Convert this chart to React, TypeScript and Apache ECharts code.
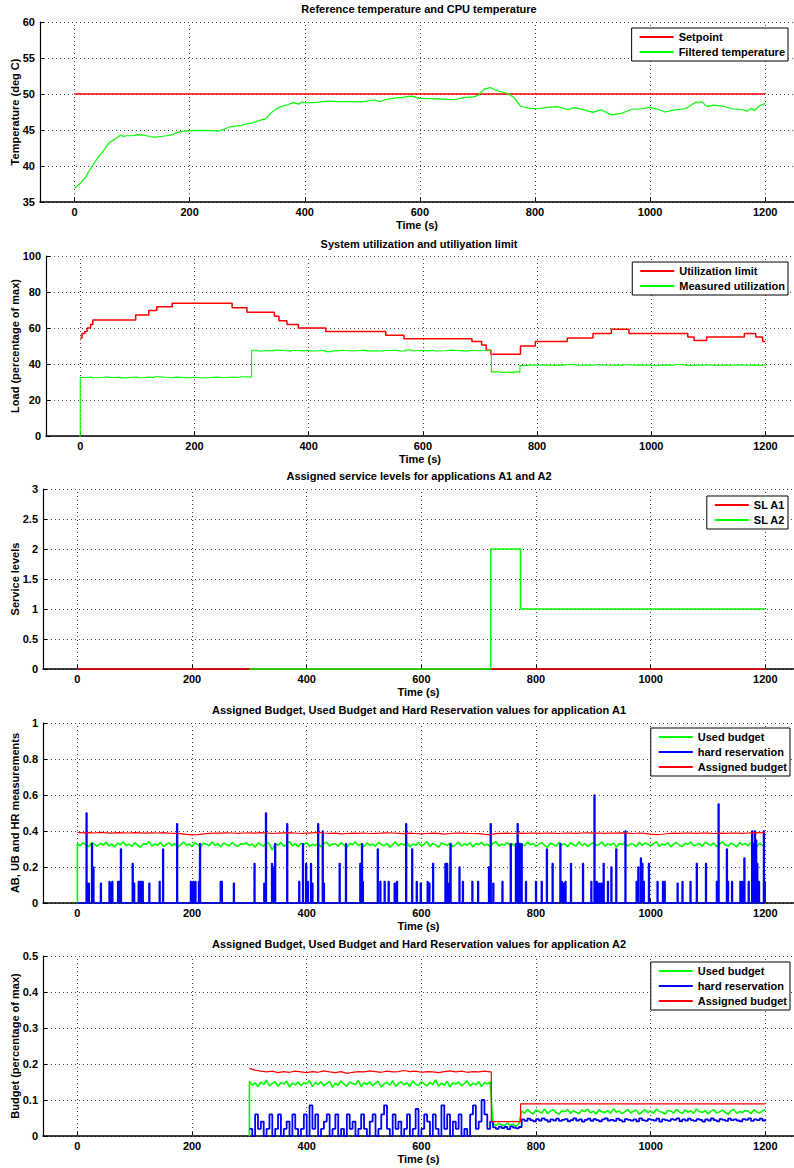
import React, { useEffect, useRef } from "react";
import * as echarts from "echarts";

// ---------- shared ticks ----------
const xTicks = [0, 200, 400, 600, 800, 1000, 1200];

// ---------- plot 1 ----------
const setpointTemp = [[0, 50], [1200, 50]];
const filteredTemp = [
  [0, 36.9], [10, 37.6], [20, 38.5], [23, 39.0], [30, 39.9], [40, 41.1], [50, 42.1], [60, 43.2], [63, 43.4], [70, 43.7],
  [80, 44.3], [85, 44.1], [90, 44.2], [100, 44.2], [110, 44.35], [120, 44.3], [130, 44.1], [140, 44.0], [150, 44.1],
  [160, 44.2], [170, 44.35], [180, 44.7], [190, 44.85], [200, 44.9], [220, 44.95], [240, 44.9], [250, 44.85], [260, 45.1],
  [270, 45.45], [280, 45.55], [290, 45.65], [300, 45.9], [310, 46.0], [320, 46.3], [330, 46.5], [335, 46.75], [340, 47.3],
  [350, 47.9], [360, 48.3], [370, 48.5], [380, 48.8], [390, 48.6], [395, 48.9], [400, 48.75], [420, 48.85], [440, 49.0],
  [460, 48.95], [480, 48.95], [500, 48.9], [520, 49.2], [530, 48.95], [540, 49.2], [550, 49.35], [565, 49.5], [585, 49.7],
  [600, 49.4], [623, 49.35], [647, 49.25], [661, 49.2], [676, 49.5], [693, 49.6], [702, 49.85], [711, 50.65], [722, 50.9],
  [734, 50.45], [752, 50.1], [763, 49.55], [775, 48.3], [787, 48.05], [804, 47.95], [822, 48.15], [839, 48.25], [857, 47.85],
  [868, 48.1], [886, 47.8], [900, 47.45], [915, 47.8], [932, 47.1], [950, 47.3], [967, 47.85], [985, 47.95], [1000, 48.15],
  [1014, 47.85], [1026, 47.5], [1043, 47.8], [1061, 47.95], [1078, 48.8], [1090, 48.9], [1099, 48.25], [1110, 48.45],
  [1128, 48.3], [1142, 47.95], [1160, 47.85], [1169, 47.6], [1175, 48.0], [1182, 47.7], [1189, 48.3], [1200, 48.7],
];

// ---------- plot 2 ----------
const utilLimitSteps = [
  [0, 54.5], [3, 57], [8, 58], [12, 60], [18, 62], [22, 64.5], [97, 67.2], [120, 69.7], [134, 71.8], [161, 73.8],
  [266, 71.2], [292, 68.8], [340, 66.5], [348, 64], [362, 62], [382, 60], [430, 58], [535, 56], [567, 54], [686, 52.5],
  [703, 50.5], [711, 47.7], [719, 45.4], [771, 50], [797, 52.5], [853, 54.5], [898, 57], [930, 59.3], [961, 57],
  [1064, 55], [1075, 53], [1097, 55], [1163, 57], [1183, 55], [1195, 52.5], [1200, 52.5],
];
const measuredUtilStart = [-2, 0];
const measuredUtilStep = 10; // seconds between samples, first sample at t = 0
const measuredUtil = [
  32.5, 32.8, 32.4, 32.6, 32.9, 32.5, 32.7, 32.3, 32.6, 32.8,
  32.4, 32.7, 32.5, 32.9, 32.6, 32.4, 32.7, 32.5, 32.3, 32.6,
  32.4, 32.2, 32.5, 32.7, 32.4, 32.6, 32.8, 32.5, 32.9, 32.7,
  47.6, 47.2, 47.5, 47.3, 47.7, 47.4, 47.1, 47.5, 47.3, 47.6,
  47.2, 47.4, 47.5, 46.9, 47.3, 47.6, 47.4, 47.2, 47.5, 47.7,
  47.3, 47.4, 47.1, 47.5, 47.6, 47.3, 47.2, 47.8, 47.4, 47.5,
  47.3, 47.6, 47.2, 47.4, 47.7, 47.5, 47.3, 47.1, 47.5, 47.4,
  47.6, 47.7,
  35.6, 35.3, 35.5, 35.2, 35.6,
  39.2, 39.5, 39.3, 39.6, 39.4, 39.2, 39.5, 39.3, 39.7, 39.4,
  39.3, 39.5, 39.2, 39.6, 39.4, 39.3, 39.5, 39.2, 39.6, 39.4,
  39.5, 39.3, 39.6, 39.2, 39.4, 39.5, 39.3, 39.7, 39.4, 39.2,
  39.5, 39.3, 39.6, 39.4, 39.2, 39.5, 39.3, 39.6, 39.4, 39.3,
  39.5, 39.2, 39.4, 39.3,
];

// ---------- plot 3 ----------
const slA1 = [[0, 0], [1200, 0]];
const slA2 = [[300, 0], [721, 0], [721, 2], [773, 2], [773, 1], [1200, 1]];

// ---------- plot 4 ----------
const a1AssignedStep = 10;
const a1Assigned = [
  0.392, 0.390, 0.391, 0.389, 0.392, 0.390, 0.388, 0.391, 0.390, 0.389,
  0.391, 0.390, 0.388, 0.390, 0.389, 0.391, 0.388, 0.387, 0.385, 0.381,
  0.378, 0.380, 0.384, 0.387, 0.389, 0.388, 0.390, 0.389, 0.387, 0.389,
  0.390, 0.388, 0.391, 0.389, 0.386, 0.388, 0.390, 0.391, 0.389, 0.386,
  0.388, 0.390, 0.392, 0.389, 0.387, 0.388, 0.384, 0.386, 0.388, 0.387,
  0.389, 0.386, 0.387, 0.388, 0.390, 0.389, 0.387, 0.385, 0.388, 0.386,
  0.384, 0.386, 0.388, 0.387, 0.383, 0.386, 0.388, 0.389, 0.387, 0.386,
  0.385, 0.381, 0.379, 0.385, 0.387, 0.388, 0.386, 0.388, 0.387, 0.389,
  0.388, 0.387, 0.389, 0.388, 0.386, 0.389, 0.388, 0.387, 0.389, 0.390,
  0.388, 0.389, 0.387, 0.389, 0.388, 0.390, 0.388, 0.386, 0.389, 0.387,
  0.383, 0.380, 0.382, 0.386, 0.388, 0.387, 0.389, 0.388, 0.387, 0.389,
  0.388, 0.386, 0.388, 0.387, 0.389, 0.388, 0.387, 0.389, 0.391, 0.390,
  0.392,
];
const a1UsedStep = 5;
const a1UsedStart = [0, 0];
const a1Used = [
  0.330, 0.318, 0.334, 0.322, 0.312, 0.336, 0.326, 0.315, 0.332, 0.321,
  0.338, 0.317, 0.328, 0.311, 0.333, 0.324, 0.340, 0.319, 0.327, 0.314,
  0.335, 0.322, 0.309, 0.331, 0.325, 0.342, 0.316, 0.329, 0.320, 0.337,
  0.313, 0.326, 0.334, 0.318, 0.330, 0.310, 0.323, 0.339, 0.321, 0.328,
  0.315, 0.336, 0.324, 0.312, 0.332, 0.327, 0.318, 0.341, 0.320, 0.329,
  0.311, 0.333, 0.325, 0.317, 0.338, 0.322, 0.314, 0.330, 0.326, 0.335,
  0.319, 0.328, 0.310, 0.334, 0.323, 0.316, 0.339, 0.327, 0.294, 0.331,
  0.321, 0.337, 0.315, 0.325, 0.342, 0.318, 0.329, 0.312, 0.332, 0.324,
  0.336, 0.314, 0.327, 0.320, 0.333, 0.311, 0.330, 0.338, 0.317, 0.326,
  0.329, 0.316, 0.335, 0.322, 0.309, 0.331, 0.324, 0.340, 0.319, 0.327,
  0.313, 0.334, 0.321, 0.328, 0.315, 0.337, 0.325, 0.318, 0.332, 0.310,
  0.326, 0.339, 0.317, 0.330, 0.322, 0.335, 0.312, 0.328, 0.320, 0.336,
  0.318, 0.327, 0.341, 0.314, 0.331, 0.323, 0.309, 0.334, 0.326, 0.319,
  0.333, 0.312, 0.325, 0.338, 0.316, 0.329, 0.321, 0.335, 0.311, 0.330,
  0.324, 0.337, 0.319, 0.328, 0.313, 0.332, 0.340, 0.317, 0.326, 0.322,
  0.336, 0.315, 0.329, 0.311, 0.334, 0.325, 0.318, 0.339, 0.323, 0.331,
  0.314, 0.327, 0.335, 0.320, 0.309, 0.333, 0.326, 0.316, 0.338, 0.322,
  0.329, 0.312, 0.336, 0.324, 0.317, 0.340, 0.321, 0.330, 0.313, 0.327,
  0.335, 0.318, 0.326, 0.339, 0.315, 0.328, 0.322, 0.334, 0.310, 0.331,
  0.323, 0.337, 0.316, 0.329, 0.325, 0.312, 0.338, 0.320, 0.333, 0.326,
  0.317, 0.330, 0.341, 0.314, 0.327, 0.322, 0.335, 0.311, 0.328, 0.336,
  0.321, 0.313, 0.332, 0.326, 0.339, 0.318, 0.324, 0.331, 0.315, 0.337,
  0.328, 0.319, 0.334, 0.312, 0.327, 0.340, 0.322, 0.316, 0.333, 0.325,
  0.311, 0.336, 0.323, 0.330, 0.318, 0.338, 0.326, 0.314, 0.332, 0.320,
  0.327,
];
// hard reservation spikes [time, value]; baseline is 0
const a1HardSpikes = [
  [16, 0.50], [20, 0.11], [25.5, 0.33], [28, 0.20], [41, 0.11], [56, 0.12], [59, 0.11], [61, 0.12], [71, 0.12], [73, 0.12],
  [76, 0.30], [96.5, 0.22], [99, 0.11], [107, 0.12], [109, 0.12], [111, 0.12], [114, 0.12], [125.5, 0.11], [143.5, 0.12],
  [149.5, 0.30], [174, 0.44], [198, 0.12], [202, 0.12], [206, 0.12], [212, 0.12], [214, 0.33], [250, 0.12], [252, 0.12],
  [273, 0.11], [309, 0.22], [326, 0.11], [329, 0.50], [339.5, 0.22], [342, 0.20], [345, 0.33], [366, 0.44], [387, 0.12],
  [393.5, 0.33], [399, 0.22], [402, 0.12], [407.5, 0.22], [410, 0.11], [420, 0.44], [428, 0.40], [430, 0.11], [457.5, 0.22],
  [468.5, 0.33], [493.5, 0.22], [496.5, 0.33], [498, 0.12], [524, 0.30], [528.5, 0.12], [536, 0.12], [543, 0.12],
  [553.5, 0.11], [557.5, 0.12], [573.5, 0.44], [584, 0.30], [592, 0.12], [599, 0.11], [611, 0.12], [614, 0.11],
  [620.5, 0.22], [642, 0.22], [645, 0.22], [648.5, 0.11], [651, 0.33], [666.5, 0.20], [672.5, 0.12], [689, 0.12],
  [699, 0.12], [718, 0.20], [721, 0.44], [725.5, 0.11], [741.5, 0.12], [756, 0.33], [765, 0.33], [768, 0.44], [771, 0.33],
  [775, 0.33], [782.5, 0.12], [800, 0.12], [810, 0.12], [819, 0.30], [829, 0.22], [842.5, 0.33], [845, 0.12], [848.5, 0.11],
  [851.5, 0.12], [861, 0.22], [882, 0.22], [896.5, 0.12], [902, 0.60], [906, 0.12], [910, 0.11], [914, 0.11], [918, 0.22],
  [925.5, 0.12], [931.5, 0.20], [940, 0.30], [956, 0.40], [975.5, 0.12], [978.5, 0.20], [983, 0.25], [985.5, 0.22],
  [988, 0.12], [997, 0.22], [1012, 0.12], [1021.5, 0.12], [1024.5, 0.12], [1047, 0.11], [1055.5, 0.12], [1069.5, 0.12],
  [1080.5, 0.22], [1096.5, 0.22], [1115.5, 0.12], [1118.5, 0.55], [1133, 0.30], [1135, 0.12], [1142, 0.12], [1156.5, 0.12],
  [1159.5, 0.12], [1163.5, 0.25], [1171, 0.12], [1177, 0.40], [1180, 0.33], [1182, 0.40], [1184, 0.35], [1186, 0.22],
  [1189, 0.12], [1197.5, 0.40], [1199, 0.12],
];

// ---------- plot 5 ----------
const a2Start = 300;
const a2Step = 5;
const a2Used = [
  0.152, 0.141, 0.148, 0.137, 0.150, 0.143, 0.155, 0.139, 0.146, 0.151,
  0.138, 0.149, 0.144, 0.153, 0.136, 0.147, 0.142, 0.150, 0.140, 0.148,
  0.145, 0.154, 0.137, 0.149, 0.143, 0.151, 0.139, 0.146, 0.152, 0.135,
  0.147, 0.141, 0.153, 0.144, 0.138, 0.150, 0.146, 0.142, 0.155, 0.137,
  0.148, 0.143, 0.151, 0.139, 0.147, 0.152, 0.136, 0.145, 0.149, 0.141,
  0.154, 0.138, 0.146, 0.150, 0.142, 0.148, 0.137, 0.153, 0.144, 0.140,
  0.151, 0.145, 0.139, 0.149, 0.143, 0.156, 0.138, 0.147, 0.141, 0.152,
  0.136, 0.148, 0.144, 0.150, 0.140, 0.146, 0.153, 0.139, 0.147, 0.142,
  0.151, 0.137, 0.149, 0.144, 0.150,
  0.034, 0.029, 0.035, 0.031, 0.028, 0.036, 0.030, 0.033, 0.027, 0.034,
  0.070, 0.063, 0.074, 0.066, 0.061, 0.072, 0.068, 0.064, 0.075, 0.062,
  0.069, 0.073, 0.065, 0.060, 0.071, 0.067, 0.074, 0.063, 0.070, 0.066,
  0.062, 0.072, 0.068, 0.075, 0.064, 0.069, 0.061, 0.073, 0.067, 0.065,
  0.071, 0.063, 0.076, 0.066, 0.070, 0.062, 0.068, 0.074, 0.064, 0.069,
  0.072, 0.060, 0.067, 0.073, 0.065, 0.070, 0.063, 0.075, 0.068, 0.066,
  0.061, 0.071, 0.069, 0.064, 0.074, 0.067, 0.062, 0.072, 0.066, 0.070,
  0.063, 0.075, 0.068, 0.065, 0.071, 0.061, 0.069, 0.073, 0.064, 0.067,
  0.072, 0.066, 0.060, 0.070, 0.074, 0.063, 0.068, 0.065, 0.071, 0.069,
  0.062, 0.073, 0.067, 0.064, 0.070, 0.072,
];
const a2Hard = [
  0.020, 0.000, 0.060, 0.020, 0.040, 0.000, 0.020, 0.060, 0.000, 0.020,
  0.060, 0.000, 0.020, 0.040, 0.000, 0.060, 0.020, 0.000, 0.020, 0.060,
  0.000, 0.085, 0.020, 0.060, 0.000, 0.020, 0.040, 0.060, 0.000, 0.020,
  0.060, 0.000, 0.020, 0.000, 0.060, 0.020, 0.040, 0.000, 0.020, 0.060,
  0.020, 0.000, 0.040, 0.060, 0.000, 0.020, 0.060, 0.085, 0.020, 0.000,
  0.060, 0.020, 0.040, 0.000, 0.020, 0.060, 0.000, 0.020, 0.075, 0.000,
  0.020, 0.060, 0.040, 0.000, 0.060, 0.020, 0.000, 0.085, 0.020, 0.060,
  0.000, 0.040, 0.020, 0.060, 0.000, 0.020, 0.000, 0.060, 0.085, 0.020,
  0.040, 0.100, 0.060, 0.020, 0.040,
  0.024, 0.020, 0.026, 0.022, 0.025, 0.019, 0.027, 0.023, 0.021, 0.025,
  0.046, 0.042, 0.048, 0.044, 0.041, 0.047, 0.043, 0.049, 0.045, 0.040,
  0.046, 0.043, 0.048, 0.042, 0.045, 0.047, 0.041, 0.044, 0.049, 0.043,
  0.046, 0.040, 0.045, 0.048, 0.042, 0.047, 0.044, 0.041, 0.046, 0.049,
  0.043, 0.045, 0.042, 0.048, 0.044, 0.040, 0.047, 0.045, 0.043, 0.046,
  0.041, 0.049, 0.044, 0.042, 0.047, 0.045, 0.043, 0.048, 0.040, 0.046,
  0.044, 0.042, 0.047, 0.045, 0.049, 0.041, 0.046, 0.043, 0.048, 0.044,
  0.042, 0.047, 0.045, 0.040, 0.046, 0.043, 0.049, 0.044, 0.041, 0.047,
  0.045, 0.042, 0.048, 0.044, 0.046, 0.043, 0.041, 0.047, 0.045, 0.049,
  0.042, 0.046, 0.044, 0.048, 0.043, 0.047,
];
const a2AssignedStep = 10;
const a2Assigned = [
  0.188, 0.183, 0.180, 0.178, 0.180, 0.176, 0.179, 0.177, 0.180, 0.178,
  0.176, 0.179, 0.177, 0.181, 0.178, 0.176, 0.179, 0.174, 0.177, 0.179,
  0.178, 0.181, 0.179, 0.177, 0.180, 0.178, 0.179, 0.182, 0.179, 0.180,
  0.177, 0.179, 0.178, 0.176, 0.179, 0.181, 0.178, 0.180, 0.177, 0.179,
  0.178, 0.180, 0.178,
];
const a2AssignedTail = [[722, 0.178], [722, 0.040], [773, 0.040], [773, 0.089], [1200, 0.089]];

// ---------- texts ----------
const titles = [
  "Reference temperature and CPU temperature",
  "System utilization and utiliyation limit",
  "Assigned service levels for applications A1 and A2",
  "Assigned Budget, Used Budget and Hard Reservation values for application A1",
  "Assigned Budget, Used Budget and Hard Reservation values for application A2",
];
const yNames = [
  "Temperature (deg C)",
  "Load (percentage of max)",
  "Service levels",
  "AB, UB and HR measurements",
  "Budget (percentage of max)",
];
const xName = "Time (s)";
const yRanges = [
  [35, 60, 5],
  [0, 100, 20],
  [0, 3, 0.5],
  [0, 1, 0.2],
  [0, 0.5, 0.1],
];
const legendNames = [
  ["Setpoint", "Filtered temperature"],
  ["Utilization limit", "Measured utilization"],
  ["SL A1", "SL A2"],
  ["Used budget", "hard reservation", "Assigned budget"],
  ["Used budget", "hard reservation", "Assigned budget"],
];

const RED = "#ff0000";
const GREEN = "#00ff00";
const BLUE = "#0000ff";
const FONT = "'Liberation Sans', Arial, Helvetica, sans-serif";

// layout
const gridLefts = [40, 46, 43, 43, 43];
const gridTops = [22, 256, 489, 723, 956];
const gridH = 180;
const titleYs = [9, 244, 476, 710, 944];
const legendTops = [28, 262, 496, 728, 962];
const legendRights = [6, 6, 6, 4, 4];

function buildOption() {
  const regular = (vals: number[], start: number, step: number) => vals.map((v, i) => [start + i * step, v]);

  const measuredData = [measuredUtilStart, ...regular(measuredUtil, 0, measuredUtilStep)];
  const a1UsedData = [a1UsedStart, ...regular(a1Used, 0, a1UsedStep)];
  const a1AssignedData = regular(a1Assigned, 0, a1AssignedStep);
  const a1HardData: number[][] = [[0, 0]];
  for (const [t, v] of a1HardSpikes) {
    a1HardData.push([t - 0.8, 0], [t - 0.8, v], [t + 0.8, v], [t + 0.8, 0]);
  }
  a1HardData.push([1200, 0]);
  const a2UsedData = [[a2Start, 0], ...regular(a2Used, a2Start, a2Step)];
  const a2HardData = regular(a2Hard, a2Start, a2Step);
  const a2AssignedData = [...regular(a2Assigned, a2Start, a2AssignedStep), ...a2AssignedTail];

  const textStyle = { fontFamily: FONT, fontWeight: "bold" as const, fontSize: 11, color: "#000" };
  const gridLine = { color: "#444", type: [1, 3] as any, width: 1 };

  const grids = gridTops.map((top, i) => ({
    left: gridLefts[i],
    right: 0,
    top,
    height: gridH,
    containLabel: false,
    outerBoundsMode: "none",
  }));

  const xAxes = grids.map((_, i) => ({
    type: "value",
    gridIndex: i,
    min: -60,
    max: 1250,
    axisLine: { show: true, onZero: false, lineStyle: { color: "#000", width: 1.5 } },
    axisTick: { show: true, inside: true, length: 5, customValues: xTicks, lineStyle: { color: "#000", width: 1 } },
    axisLabel: { show: true, customValues: xTicks, margin: 4, formatter: (v: number) => String(v), ...textStyle },
    splitLine: { show: false },
    name: xName,
    nameLocation: "middle",
    nameGap: 17,
    nameMoveOverlap: false,
    nameTextStyle: textStyle,
  }));

  const yAxes = grids.map((_, i) => ({
    type: "value",
    gridIndex: i,
    min: yRanges[i][0],
    max: yRanges[i][1],
    interval: yRanges[i][2],
    axisLine: { show: true, onZero: false, lineStyle: { color: "#000", width: 1.2 } },
    axisTick: { show: true, inside: true, length: 4, lineStyle: { color: "#000", width: 1 } },
    axisLabel: { show: true, margin: 5, ...textStyle },
    splitLine: { show: true, lineStyle: gridLine },
    name: yNames[i],
    nameLocation: "middle",
    nameGap: gridLefts[i] - 20,
    nameMoveOverlap: false,
    nameTextStyle: textStyle,
  }));

  const vGrid = {
    silent: true,
    symbol: "none",
    z: 1,
    label: { show: false },
    lineStyle: gridLine,
    emphasis: { disabled: true },
    data: xTicks.map((v) => ({ xAxis: v })),
  };

  const line = (name: string, color: string, data: any[], idx: number, width = 1.2, extra: any = {}) => ({
    type: "line",
    name,
    xAxisIndex: idx,
    yAxisIndex: idx,
    data,
    symbol: "none",
    showSymbol: false,
    clip: false,
    lineStyle: { color, width },
    itemStyle: { color },
    emphasis: { disabled: true },
    ...extra,
  });

  const series = [
    line("Setpoint", RED, setpointTemp, 0, 1.5, { markLine: vGrid }),
    line("Filtered temperature", GREEN, filteredTemp, 0, 1.2),
    line("Utilization limit", RED, utilLimitSteps, 1, 1.5, { step: "end", markLine: vGrid }),
    line("Measured utilization", GREEN, measuredData, 1, 1.1, { step: "end" }),
    line("SL A1", RED, slA1, 2, 1.5, { markLine: vGrid }),
    line("SL A2", GREEN, slA2, 2, 1.5),
    line("Used budget", GREEN, a1UsedData, 3, 1.6, { markLine: vGrid }),
    line("hard reservation", BLUE, a1HardData, 3, 1.4),
    line("Assigned budget", RED, a1AssignedData, 3, 1.2),
    line("Used budget", GREEN, a2UsedData, 4, 1.6, { markLine: vGrid }),
    line("hard reservation", BLUE, a2HardData, 4, 1.8, { step: "end" }),
    line("Assigned budget", RED, a2AssignedData, 4, 1.2),
  ];

  const legends = legendNames.map((names, i) => ({
    orient: "vertical",
    right: legendRights[i],
    top: legendTops[i],
    data: names,
    icon: "rect",
    itemWidth: 34,
    itemHeight: 2,
    itemGap: 0,
    padding: [1.5, 3, 1.5, 8],
    borderColor: "#000",
    borderWidth: 1,
    backgroundColor: "#fff",
    selectedMode: false,
    textStyle: { ...textStyle, lineHeight: 15 },
  }));

  const graphic = titles.map((t, i) => ({
    type: "text",
    x: 419,
    y: titleYs[i],
    silent: true,
    style: {
      text: t,
      fill: "#000",
      font: `bold 11px ${FONT}`,
      textAlign: "center",
      textVerticalAlign: "middle",
      align: "center",
      verticalAlign: "middle",
    },
  }));

  return {
    animation: false,
    backgroundColor: "#fff",
    grid: grids,
    xAxis: xAxes,
    yAxis: yAxes,
    legend: legends,
    series,
    graphic,
  };
}

export default function App() {
  const ref = useRef<HTMLDivElement>(null);
  useEffect(() => {
    if (!ref.current) return;
    const chart = echarts.init(ref.current, null, { renderer: "svg" });
    chart.setOption(buildOption() as any);
    return () => chart.dispose();
  }, []);
  return <div ref={ref} style={{ position: "absolute", left: 0, top: 0, width: 794, height: 1168 }} />;
}
